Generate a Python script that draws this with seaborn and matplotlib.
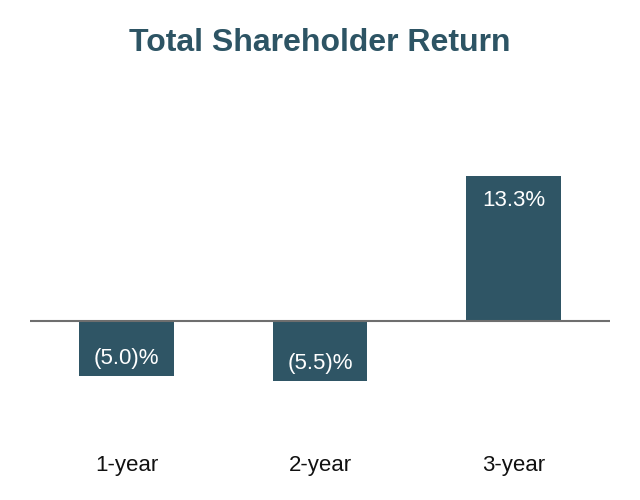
import matplotlib
matplotlib.use("Agg")
import matplotlib.pyplot as plt
import seaborn as sns

# Data
periods = ['1-year', '2-year', '3-year']
tsr = [-5.0, -5.5, 13.3]
labels = ['(5.0)%', '(5.5)%', '13.3%']

sns.set_style('white')
plt.rcParams['font.family'] = ['Liberation Sans', 'DejaVu Sans']

fig = plt.figure(figsize=(6.4, 5), dpi=100)
ax = fig.add_axes([30 / 640, 0.16, 580 / 640, 0.58])

bar_color = '#2f5565'
sns.barplot(x=periods, y=tsr, color=bar_color, saturation=1, width=0.49,
            linewidth=0, ax=ax)

ax.axhline(0, color='#6e6e6e', lw=1.5, zorder=3)
ax.set_xlim(-0.5, 2.5)
ax.set_ylim(-9.08, 17.52)

# value labels inside bars
for i, (v, lab) in enumerate(zip(tsr, labels)):
    off = -24 if v > 0 else 17
    ax.annotate(lab, (i, v), xytext=(0, off), textcoords='offset pixels',
                ha='center', va='center', color='white', fontsize=16)

ax.set_yticks([])
ax.set_xlabel('')
ax.set_ylabel('')
ax.tick_params(axis='x', length=0, pad=25, labelsize=16, labelcolor='#111111')
sns.despine(ax=ax, left=True, bottom=True)

fig.text(0.5, 1 - 43 / 500, 'Total Shareholder Return', ha='center', va='center',
         fontsize=23, fontweight='bold', color='#2d5464')

fig.savefig('out.png', dpi=100)
